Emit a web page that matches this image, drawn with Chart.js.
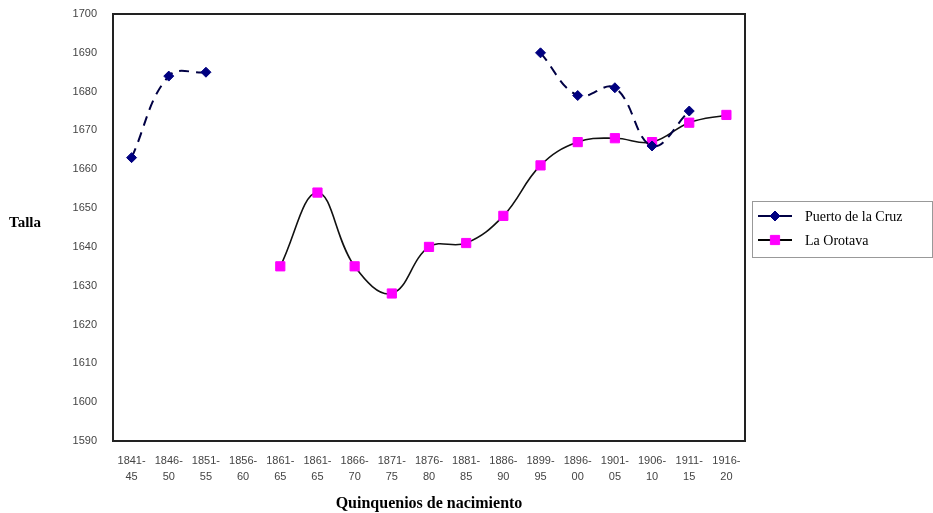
<!DOCTYPE html>
<html>
<head>
<meta charset="utf-8">
<script src="https://cdn.jsdelivr.net/npm/chart.js@4/dist/chart.umd.min.js"></script>
<style>
html,body{margin:0;padding:0;background:#fff;}
#wrap{position:relative;width:933px;height:513px;}
</style>
</head>
<body>
<div id="wrap"><canvas id="c" width="933" height="513"></canvas></div>
<script>
const categories = [
  ["1841-","45"],["1846-","50"],["1851-","55"],["1856-","60"],["1861-","65"],
  ["1861-","65"],["1866-","70"],["1871-","75"],["1876-","80"],["1881-","85"],
  ["1886-","90"],["1899-","95"],["1896-","00"],["1901-","05"],["1906-","10"],
  ["1911-","15"],["1916-","20"]
];
const puertoDeLaCruz = [1663,1684,1685,null,null,null,null,null,null,null,null,1690,1679,1681,1666,1675,null];
const laOrotava = [null,null,null,null,1635,1654,1635,1628,1640,1641,1648,1661,1667,1668,1667,1672,1674];
const seriesNames = ["Puerto de la Cruz","La Orotava"];
const yAxisTitle = "Talla";
const xAxisTitle = "Quinquenios de nacimiento";

const framePlugin = {
  id: 'frame',
  afterDraw(chart) {
    const ctx = chart.ctx, a = chart.chartArea;
    ctx.save();
    ctx.strokeStyle = '#222';
    ctx.lineWidth = 2;
    ctx.strokeRect(a.left, a.top, a.right - a.left, a.bottom - a.top);
    // y title (horizontal)
    ctx.fillStyle = '#000';
    ctx.font = 'bold 15px "Liberation Serif", serif';
    ctx.textAlign = 'left';
    ctx.textBaseline = 'middle';
    ctx.fillText(yAxisTitle, 9, 223);
    // legend
    const lx = 752, ly = 201, lw = 180, lh = 56;
    ctx.strokeStyle = '#999';
    ctx.lineWidth = 1;
    ctx.strokeRect(lx + 0.5, ly + 0.5, lw, lh);
    ctx.font = '14px "Liberation Serif", serif';
    const rows = [
      {y: 216, color: '#000044', point: 'rectRot', pc: '#000080', r: 5},
      {y: 240, color: '#000', point: 'rect', pc: '#ff00ff', r: 6.5}
    ];
    rows.forEach((row, i) => {
      ctx.strokeStyle = row.color;
      ctx.lineWidth = 2;
      ctx.beginPath();
      ctx.moveTo(758, row.y);
      ctx.lineTo(792, row.y);
      ctx.stroke();
      ctx.fillStyle = row.pc;
      ctx.strokeStyle = row.pc;
      ctx.lineWidth = 1;
      Chart.helpers.drawPoint(ctx, {pointStyle: row.point, radius: row.r, borderWidth: 1, rotation: 0}, 775, row.y);
      ctx.fillStyle = '#000';
      ctx.textAlign = 'left';
      ctx.textBaseline = 'middle';
      ctx.fillText(seriesNames[i], 805, row.y + 1);
    });
    ctx.restore();
  }
};

new Chart(document.getElementById('c'), {
  type: 'line',
  data: {
    labels: categories,
    datasets: [
      {
        label: seriesNames[0],
        data: puertoDeLaCruz,
        borderColor: '#000044',
        borderWidth: 2,
        borderDash: [10, 7],
        tension: 0.4,
        pointStyle: 'rectRot',
        pointRadius: 5,
        pointBackgroundColor: '#000080',
        pointBorderColor: '#000080',
        pointBorderWidth: 1,
        spanGaps: false,
        fill: false
      },
      {
        label: seriesNames[1],
        data: laOrotava,
        borderColor: '#111',
        borderWidth: 1.6,
        tension: 0.4,
        pointStyle: 'rect',
        pointRadius: 6.5,
        pointBackgroundColor: '#ff00ff',
        pointBorderColor: '#ff00ff',
        pointBorderWidth: 1,
        spanGaps: false,
        fill: false
      }
    ]
  },
  options: {
    responsive: false,
    animation: false,
    devicePixelRatio: 1,
    layout: {padding: {left: 63, right: 188, top: 14, bottom: 0}},
    plugins: {legend: {display: false}, tooltip: {enabled: false}},
    scales: {
      x: {
        offset: true,
        grid: {display: false, drawTicks: false},
        border: {display: false},
        ticks: {
          color: '#444',
          font: {family: '"Liberation Sans", Arial, sans-serif', size: 11, lineHeight: 1.45},
          padding: 12,
          maxRotation: 0,
          autoSkip: false
        },
        title: {
          display: true,
          text: xAxisTitle,
          color: '#000',
          font: {family: '"Liberation Serif", serif', size: 16, weight: 'bold'},
          padding: {top: 8, bottom: 0}
        },
        afterFit(s) { s.height = 72; s.paddingLeft = 0; s.paddingRight = 0; }
      },
      y: {
        min: 1590,
        max: 1700,
        grid: {display: false, drawTicks: false},
        border: {display: false},
        ticks: {
          stepSize: 10,
          color: '#444',
          font: {family: '"Liberation Sans", Arial, sans-serif', size: 11},
          padding: 16,
          callback: (v) => String(v)
        },
        afterFit(s) { s.width = 50; s.paddingTop = 0; s.paddingBottom = 0; }
      }
    }
  },
  plugins: [framePlugin]
});
</script>
</body>
</html>
